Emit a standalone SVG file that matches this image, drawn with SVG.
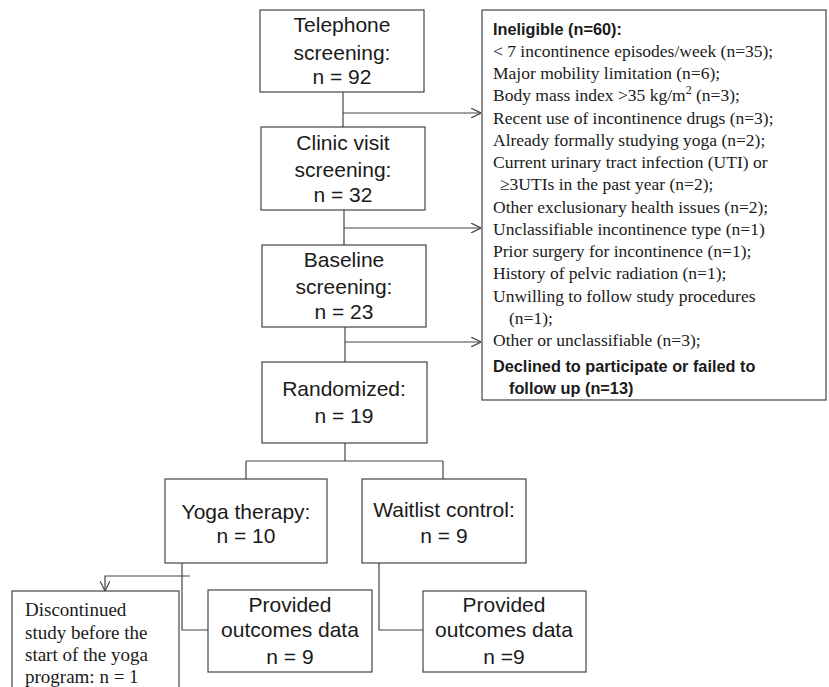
<svg xmlns="http://www.w3.org/2000/svg" width="829" height="687" viewBox="0 0 829 687">
<defs>
<style>
.box{fill:#fff;stroke:#444;stroke-width:1.2}
.nt{font-family:"Liberation Sans",Arial,sans-serif;font-size:21px;fill:#1a1a1a;text-anchor:middle}
.st{font-family:"Liberation Serif","Times New Roman",serif;font-size:17.5px;fill:#1a1a1a}
.dt{font-family:"Liberation Serif","Times New Roman",serif;font-size:19px;fill:#1a1a1a}
.bt{font-family:"Liberation Sans",Arial,sans-serif;font-size:16.3px;font-weight:bold;fill:#1a1a1a}
.ln{fill:none;stroke:#444;stroke-width:1.2}
</style>
<marker id="ah" viewBox="0 0 10 10" refX="10" refY="5" markerWidth="10" markerHeight="10" markerUnits="userSpaceOnUse" orient="auto">
<path d="M0,0 L10,5 L0,10" fill="none" stroke="#444" stroke-width="1.2"/>
</marker>
</defs>
<rect width="829" height="687" fill="#fff"/>
<g id="connectors">
<path class="ln" d="M343,92 V127"/>
<path class="ln" d="M343,113 H481" marker-end="url(#ah)"/>
<path class="ln" d="M344,210 V245"/>
<path class="ln" d="M344,228 H481" marker-end="url(#ah)"/>
<path class="ln" d="M345,327 V362"/>
<path class="ln" d="M345,342 H481" marker-end="url(#ah)"/>
<path class="ln" d="M345,443 V461"/>
<path class="ln" d="M246,461 H443"/>
<path class="ln" d="M246,461 V479"/>
<path class="ln" d="M443,461 V479"/>
<path class="ln" d="M182,563 V630 H208"/>
<path class="ln" d="M190,576 H105 V591" marker-end="url(#ah)"/>
<path class="ln" d="M379,563 V630 H423"/>
</g>
<g id="telephone">
<rect class="box" x="260" y="10" width="164" height="82"/>
<text class="nt" x="342" y="32">Telephone</text>
<text class="nt" x="342" y="60">screening:</text>
<text class="nt" x="342" y="84">n = 92</text>
</g>
<g id="clinic">
<rect class="box" x="261" y="127" width="164" height="83"/>
<text class="nt" x="343" y="150">Clinic visit</text>
<text class="nt" x="343" y="177">screening:</text>
<text class="nt" x="343" y="202">n = 32</text>
</g>
<g id="baseline">
<rect class="box" x="262" y="245" width="164" height="82"/>
<text class="nt" x="344" y="267">Baseline</text>
<text class="nt" x="344" y="294">screening:</text>
<text class="nt" x="344" y="319">n = 23</text>
</g>
<g id="randomized">
<rect class="box" x="262" y="362" width="165" height="81"/>
<text class="nt" x="344" y="396">Randomized:</text>
<text class="nt" x="344" y="423">n = 19</text>
</g>
<g id="yoga">
<rect class="box" x="165" y="479" width="162" height="84"/>
<text class="nt" x="246" y="519">Yoga therapy:</text>
<text class="nt" x="246" y="543">n = 10</text>
</g>
<g id="waitlist">
<rect class="box" x="362" y="479" width="164" height="84"/>
<text class="nt" x="444" y="517">Waitlist control:</text>
<text class="nt" x="444" y="543">n = 9</text>
</g>
<g id="discontinued">
<rect class="box" x="12" y="591" width="167" height="110"/>
<text class="dt" x="25" y="616">Discontinued</text>
<text class="dt" x="25" y="639">study before the</text>
<text class="dt" x="25" y="661">start of the yoga</text>
<text class="dt" x="25" y="683">program: n = 1</text>
</g>
<g id="provided1">
<rect class="box" x="208" y="590" width="164" height="82"/>
<text class="nt" x="290" y="612">Provided</text>
<text class="nt" x="290" y="637">outcomes data</text>
<text class="nt" x="290" y="664">n = 9</text>
</g>
<g id="provided2">
<rect class="box" x="423" y="591" width="163" height="81"/>
<text class="nt" x="504" y="612">Provided</text>
<text class="nt" x="504" y="637">outcomes data</text>
<text class="nt" x="504" y="664">n =9</text>
</g>
<g id="ineligible">
<rect class="box" x="482" y="10" width="344" height="390"/>
<text class="bt" x="493" y="35">Ineligible (n=60):</text>
<text class="st" x="493" y="57">&lt; 7 incontinence episodes/week (n=35);</text>
<text class="st" x="493" y="79">Major mobility limitation (n=6);</text>
<text class="st" x="493" y="101">Body mass index &gt;35 kg/m<tspan font-size="12" dy="-7">2</tspan><tspan dy="7"> (n=3);</tspan></text>
<text class="st" x="493" y="124">Recent use of incontinence drugs (n=3);</text>
<text class="st" x="493" y="146">Already formally studying yoga (n=2);</text>
<text class="st" x="493" y="168">Current urinary tract infection (UTI) or</text>
<text class="st" x="500" y="190">≥3UTIs in the past year (n=2);</text>
<text class="st" x="493" y="213">Other exclusionary health issues (n=2);</text>
<text class="st" x="493" y="235">Unclassifiable incontinence type (n=1)</text>
<text class="st" x="493" y="257">Prior surgery for incontinence (n=1);</text>
<text class="st" x="493" y="279">History of pelvic radiation (n=1);</text>
<text class="st" x="493" y="302">Unwilling to follow study procedures</text>
<text class="st" x="509" y="324">(n=1);</text>
<text class="st" x="493" y="346">Other or unclassifiable (n=3);</text>
<text class="bt" x="493" y="372">Declined to participate or failed to</text>
<text class="bt" x="509" y="394">follow up (n=13)</text>
</g>
</svg>
